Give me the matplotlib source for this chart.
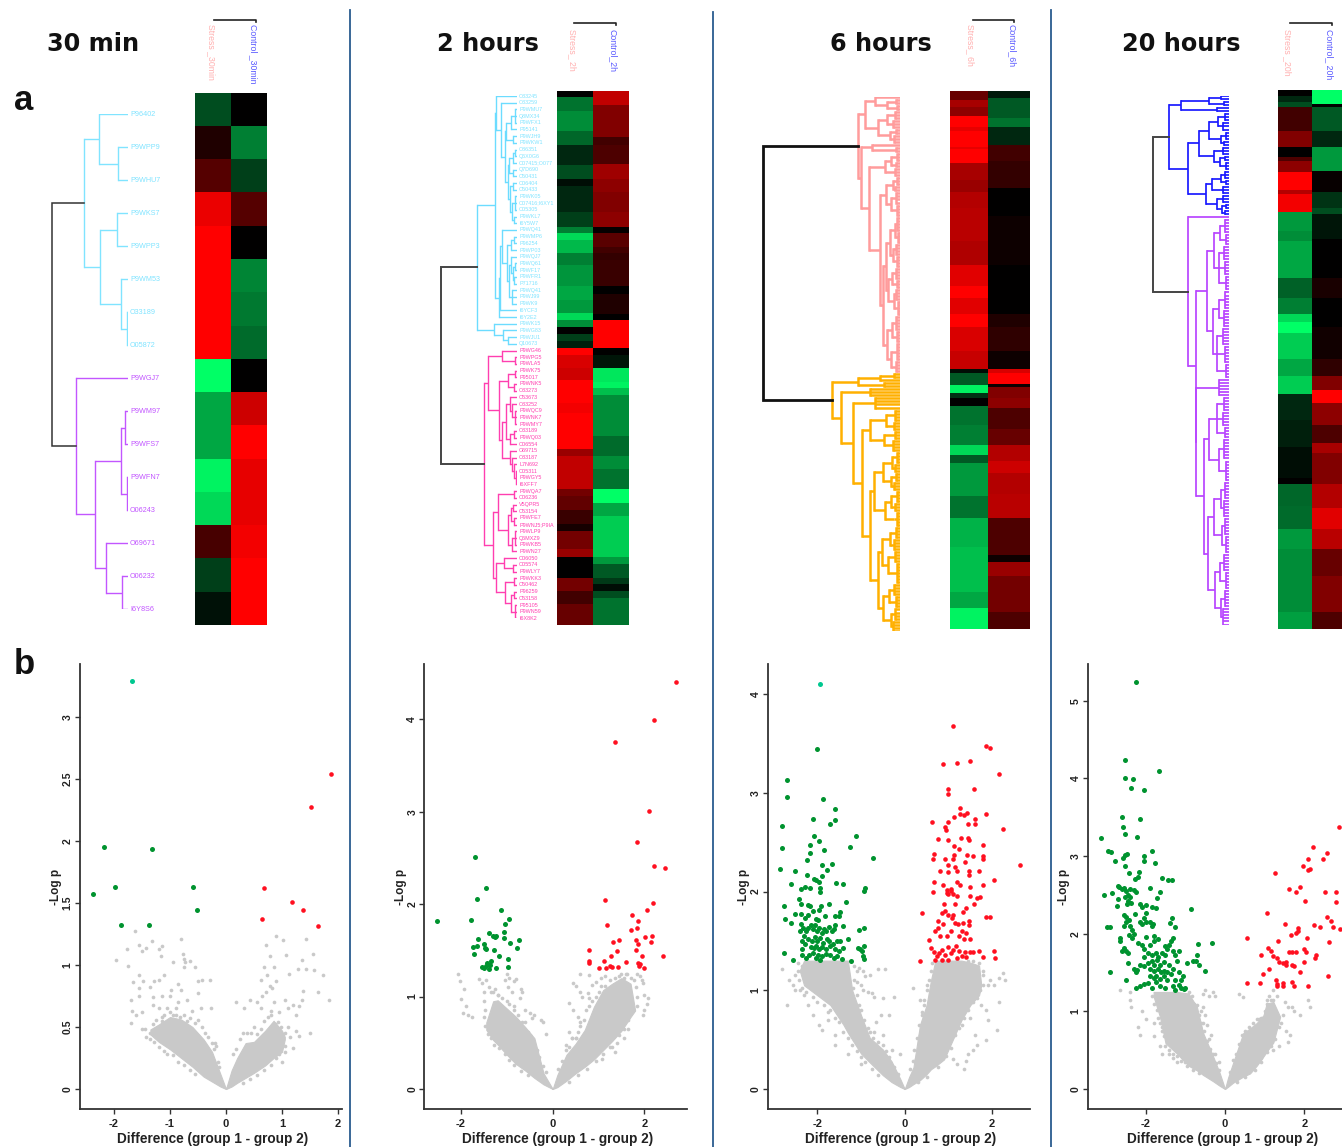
import numpy as np
import matplotlib
matplotlib.use('Agg')
import matplotlib.pyplot as plt
from matplotlib.colors import LinearSegmentedColormap

# ---- heatmap data: band edges (picture rows) and log ratio per band, red + / green -
stress_30_vals = [-.3, .12, .33, .92, 1, 1, 1, 1, -1, -.65, -.65, -.95, -.85, .28, -.25, -.07]
control_30_vals = [0, -.5, -.25, .33, 0, -.52, -.47, -.42, 0, .8, 1, .9, .9, .95, 1, 1]
rows_30_edges = list(range(17))

stress_2h_edges = [222, 238, 272, 322, 355, 405, 438, 455, 520, 555, 570, 588, 620, 650, 700, 735, 768, 785, 800, 818,
                   835, 852, 870, 902, 932, 988, 1012, 1100, 1117, 1197, 1215, 1250, 1283, 1300, 1345, 1365, 1415,
                   1448, 1480, 1530]
stress_2h_vals = [0, -.45, -.55, -.4, -.15, -.3, -.05, -.15, -.25, -.5, -.85, -.72, -.5, -.58, -.65, -.6, -.85, -.55,
                  0, -.25, -.12, 1, .85, .8, 1, .95, 1, .6, .75, .45, .38, .22, .08, .45, .6, 0, .45, .25, .4]
control_2h_edges = [222, 257, 335, 355, 403, 438, 470, 520, 555, 570, 605, 620, 637, 700, 720, 770, 785, 852, 870,
                    902, 935, 950, 968, 1000, 1067, 1117, 1150, 1197, 1232, 1265, 1365, 1382, 1415, 1432, 1448, 1465,
                    1530]
control_2h_vals = [.75, .5, .25, .3, .62, .55, .5, .55, .02, .35, .25, .2, .22, 0, .12, 0, 1, 0, -.08, -.9, -.95,
                   -.75, -.55, -.55, -.42, -.55, -.45, -1, -.65, -.8, -.6, -.35, -.22, -.05, -.3, -.45]

stress_6h_edges = [222, 245, 262, 285, 310, 320, 360, 365, 400, 440, 470, 510, 590, 650, 700, 730, 770, 800, 860, 905,
                   915, 943, 962, 975, 995, 1040, 1090, 1115, 1135, 1215, 1268, 1340, 1380, 1450, 1490, 1540]
stress_6h_vals = [.4, .65, .55, 1, .9, 1, .9, 1, .65, .6, .7, .72, .68, .88, 1, .88, 1, .85, .78, -.05, -.35, -.95,
                  -.2, 0, -.45, -.5, -.85, -.35, -.6, -.45, -.7, -.75, -.75, -.65, -.95]
control_6h_edges = [222, 240, 290, 310, 355, 395, 460, 530, 650, 770, 800, 860, 905, 915, 940, 947, 975, 1000, 1050,
                    1090, 1130, 1160, 1210, 1268, 1360, 1378, 1410, 1500, 1540]
control_6h_vals = [-.1, -.35, -.45, -.15, .25, .2, 0, .05, 0, .12, .18, .05, .85, 1, .05, .5, .55, .3, .4, .7, .8, .7,
                   .72, .3, .05, .6, .45, .3]

stress_20h_edges = [220, 235, 250, 262, 320, 360, 385, 395, 422, 465, 475, 520, 565, 590, 680, 730, 770, 790, 815, 880,
                    920, 965, 1030, 1095, 1170, 1185, 1240, 1295, 1345, 1500, 1540]
stress_20h_vals = [0, -.15, -.3, .25, .5, 0, .3, .55, 1, .7, .95, -.6, -.55, -.65, -.38, -.5, -.85, -1, -.8, -.65,
                   -.8, -.15, -.12, -.05, 0, -.4, -.42, -.6, -.55, -.62]
control_20h_edges = [220, 255, 262, 320, 360, 420, 470, 510, 525, 585, 680, 730, 800, 880, 920, 955, 988, 1040, 1085,
                     1110, 1185, 1245, 1295, 1345, 1410, 1500, 1540]
control_20h_vals = [-1, 0, -.35, -.15, -.6, .03, -.2, -.3, -.08, 0, .1, 0, .07, .18, .5, 1, .55, .3, .65, .5, .7, .88,
                    .72, .4, .5, .3]

# ---- protein labels
labels_30 = ['P96402', 'P9WPP9', 'P9WHU7', 'P9WKS7', 'P9WPP3', 'P9WM53', 'O33189', 'O05872', 'P9WGJ7', 'P9WM97',
             'P9WFS7', 'P9WFN7', 'O06243', 'O69671', 'O06232', 'I6Y8S6']
labels_2h = ['O33245', 'O33259', 'P9WMU7', 'Q8MX34', 'P9WFX1', 'P95141', 'P9WJH9', 'P9WKW1', 'O86351', 'Q6X0G6',
             'O07415;O077', 'Q7D690', 'O50431', 'O06404', 'O50433', 'P9WK05', 'O07416;I6XY1', 'O05305', 'P9WKL7',
             'I6Y5W7', 'P9WQ41', 'P9WMP6', 'P96254', 'P9WP03', 'P9WQJ7', 'P9WQ61', 'P9WF17', 'P9WFR1', 'P71716',
             'P9WQ41', 'P9WJ99', 'P9WK9', 'I6YCF3', 'I6Y2E2', 'P9WK15', 'P9WG83', 'P9WJU1', 'Q10673',
             'P9WG46', 'P9WPG5', 'P9WLA5', 'P9WK75', 'P95017', 'P9WNK5', 'O33273', 'O53673', 'O33252', 'P9WQC9',
             'P9WNK7', 'P9WMY7', 'O33189', 'P9WQ03', 'O06554', 'O69715', 'O33187', 'L7N692', 'O05311', 'P9WGY5',
             'I6XFF7', 'P9WQA7', 'O06236', 'V5QPR5', 'O53154', 'P9WFE7', 'P9WNJ5;P9IA', 'P9WLP9', 'Q6MXZ9', 'P9WKB5',
             'P9WN27', 'O06050', 'O05574', 'P9WLY7', 'P9WKK3', 'O50462', 'P96259', 'O53158', 'P95105', 'P9WN59',
             'I6X8K2']

# ---- dendrograms: (distance, child, child, ...), an int child is that many leaves
tree_30_a = (44, (29, 1, (10, 2)), (28, (11, 2), (7, 1, (1, 2))))
tree_30_b = (52, 1, (33, (7, (2.5, 2), (1, 2)), (22, 1, (6, 2))))
tree_2h_a = (39.3,
             (22,
              (21, 1, (16, 1, (12,
                               (11, (6, (2, 3), 1), (4, 2)),
                               (9, (8, (3.5, (1.5, 2), 1), (3.5, 2)), (7, (4, 2), (5, (2, 3), (3, 2))))))),
              (18, (17, (15, 1, (10, (6, (3, 2), 1), (8, (6, 1, (4, (2, 2), (3, 2))), (5, 3)))), 1), 1)),
             (23, 1, (14, 1, (9, 2))))
tree_2h_b = (32.3,
             (29, (15, 1, (1.7, 2)),
              (18, (9, (2, 2), (3, 2)),
               (15, (11, (7, 1, (5, 1, (2, 3))), (7, (3, 2), 1)), (7, 1, (5, 1, (2.5, 1, (1, 3))))))),
             (24,
              (19, (2.5, 2), (9, (6, (3.5, 2), (2.5, 2)), (5, (2, 3), 1))),
              (21, (13, 1, (4, 2)), (12, (3, 2), (6, (3, 2), (2, 3))))))
tree_6h_a = (42,
             (35, (25, 1, (13, (4, 2), (3, 2))), (22, (13, (5, 3), (7, 3)), (10, (4, 2), (6, 3)))),
             (39, (28, 1, (4, 2)),
              (31, (15, (9, (3, 3), (4, 2)), (5, 3)),
               (20, (14, (7, (3, 3), (5, 2)), (9, (4, 4), (3, 4))),
                (17,
                 (14, (10, (5, (3, 5), (2, 4)), (7, (4, 4), (3, 4))), (12, (8, (4, 4), (3, 3)), (6, (4, 4), (2, 5)))),
                 (13, (8, (4, 5), (3, 4)), (9, (3, 6), (4, 4))))))))
tree_6h_b = (68,
             (42, (20, (6, 2), 1), (16, 2)),
             (59, (30, 3),
              (47, (25, 4),
               (38, (30, (14, (5, 4), (6, 3)), (16, (5, 3), (7, 4))),
                (30,
                 (26, (17, (8, (3, 4), (5, 3)), (9, (4, 3), (6, 3))), (15, (9, (3, 4), (5, 3)), (6, (3, 5)))),
                 (22, (18, (10, (4, 4), (6, 4)), (12, (5, 4), (3, 7))),
                  (17, (11, (6, 4), (4, 4)), (9, (5, 4), (7, 4)))))))))
tree_20h_a = (60,
              (48, (20, (8, 2), (5, 2)), (12, 2)),
              (40.7,
               (30, (20, (11, (4, 3), (6, 3)), (8, (3, 3), (5, 2))), (15, (6, 3), (9, (4, 2), (3, 3)))),
               (23, (17, (8, (4, 3), (3, 2)), (6, 3)), (12, (6, 3), (7, (3, 2), (4, 2))))))
tree_20h_b = (40.7, 1,
              (33,
               (22, (15, (9, (4, 5), (3, 4)), (10, (5, 5), (4, 5), (3, 5))),
                (16, (10, (4, 6), (5, 6)), (12, (6, 6), (4, 6), (3, 5)))),
               (33, (28, (10, 6)),
                (25, (20, (12, (5, 5), (6, 5), (4, 4)), (10, (5, 7), (3, 7))),
                 (21, (15, (8, (4, 6), (5, 6)), (7, (4, 6), (3, 6))), (14, (9, (5, 6), (3, 6)), (8, (4, 6), (6, 6))))))))

# ---- volcano data: (difference, -log p)
green_30 = [(-2.17, 1.95), (-1.32, 1.93), (-1.99, 1.63), (-2.38, 1.57), (-.59, 1.63), (-.51, 1.44), (-1.88, 1.32),
            (-1.38, 1.32)]
teal_30 = [(-1.67, 3.29)]
red_30 = [(1.88, 2.54), (1.51, 2.27), (.68, 1.62), (1.18, 1.51), (1.38, 1.44), (.65, 1.37), (1.65, 1.31)]
gray_30 = [(-1.62, 1.27), (-.8, 1.21), (-1.76, 1.13), (-1.56, 1.16), (-1.5, 1.11), (-1.43, 1.14), (-1.32, 1.19),
           (-1.2, 1.13), (-1.14, 1.15), (-1.16, 1.07), (-1.97, 1.04), (-1.75, .99), (-.95, 1.02), (-.76, 1.09),
           (-.75, 1.05), (-.73, 1.02), (-.65, 1.03), (-.75, .98), (-.55, .98), (-1.55, .92), (-1.66, .86), (-1.48, .87),
           (-1.55, .81), (-1.35, .82), (-1.28, .87), (-1.2, .88), (-1.1, .92), (-.99, .8), (-.85, .85), (-.8, .8),
           (-.5, .87), (-.28, .88), (-.42, .88), (-1.7, .72), (-1.55, .75), (-1.3, .74), (-1.15, .75), (-1.0, .75),
           (-.85, .7), (-.7, .72), (-.5, .77), (-1.67, .63), (-1.6, .6), (-1.5, .62), (-1.3, .68), (-1.2, .65),
           (-1.05, .65), (-.9, .65), (-.6, .63), (-.45, .65), (-.27, .65), (-1.7, .53), (-1.5, .48), (-1.35, .45),
           (-1.15, .55), (-.2, .37), (-.17, .35), (.9, 1.23), (1.02, 1.2), (1.42, 1.21), (.72, 1.16), (1.08, 1.08),
           (.78, 1.07), (1.36, 1.04), (1.55, 1.09), (.68, .98), (.85, .98), (1.12, .93), (1.28, .97), (1.42, .97),
           (1.57, .96), (1.74, .92), (.74, .92), (.62, .88), (.9, .87), (.78, .83), (.82, .81), (1.38, .79), (1.65, .78),
           (1.84, .72), (.65, .75), (.72, .78), (.85, .7), (1.05, .72), (1.2, .68), (1.35, .72), (.18, .7), (.42, .72),
           (.55, .7), (.32, .65), (.62, .65), (.8, .63), (.95, .62), (1.1, .65), (1.25, .6), (1.3, .67), (1.1, .5),
           (1.25, .47), (1.5, .45), (1.3, .43), (1.15, .42), (1.2, .33), (1.05, .3), (.95, .28)]
edge_30 = [(-1.3, .52), (-1.25, .56), (-1.15, .58), (-1.1, .6), (-1.0, .62), (-.95, .6), (-.9, .6), (-.82, .58),
           (-.75, .6), (-.7, .55), (-.65, .57), (-.55, .53), (-.5, .56), (-.42, .5), (-.38, .45), (-.32, .42),
           (-.25, .37), (-.22, .32), (-.15, .22), (-.12, .18), (-1.45, .48), (-1.42, .42), (-1.35, .4), (-1.28, .38),
           (-1.2, .34), (-1.1, .31), (-1.05, .28), (-.95, .27), (-.85, .22), (-.75, .19), (-.65, .15), (-.55, .12),
           (.12, .28), (.18, .32), (.25, .4), (.3, .45), (.38, .45), (.45, .45), (.5, .5), (.55, .44), (.62, .48),
           (.68, .55), (.75, .58), (.8, .6), (.88, .52), (.92, .54), (.98, .5), (1.05, .45), (.3, .05), (.42, .08),
           (.55, .11), (.68, .15), (.8, .19), (.9, .25), (.95, .3), (1.05, .35), (1.0, .22)]
band_30_x = [-1.35, -1.2, -1.0, -.8, -.6, -.4, -.25, -.1, 0, .1, .2, .35, .5, .7, .85, 1.0, 1.05]
band_30_lo = [.44, .38, .32, .25, .18, .1, .06, .02, 0, .02, .05, .09, .13, .19, .25, .3, .4]
band_30_hi = [.48, .52, .58, .56, .5, .4, .3, .12, 0, .15, .25, .37, .38, .47, .55, .47, .42]

green_2h = [(-1.70, 2.51), (-1.46, 2.18), (-1.65, 2.06), (-1.13, 1.94), (-2.52, 1.82), (-1.78, 1.83), (-.95, 1.84),
            (-1.04, 1.79), (-1.06, 1.70), (-1.4, 1.69), (-1.31, 1.66), (-1.23, 1.66), (-1.27, 1.65), (-1.06, 1.63),
            (-1.64, 1.62), (-.74, 1.61), (-.93, 1.58), (-1.51, 1.57), (-1.73, 1.54), (-1.65, 1.55), (-1.48, 1.53),
            (-1.46, 1.52), (-.78, 1.53), (-1.28, 1.5), (-1.72, 1.46), (-1.17, 1.44), (-.98, 1.41), (-1.35, 1.39),
            (-1.43, 1.36), (-1.54, 1.32), (-1.46, 1.33), (-1.37, 1.34), (-1.5, 1.31), (-1.4, 1.3), (-1.23, 1.31),
            (-.98, 1.32)]
red_2h = [(2.69, 4.4), (2.21, 3.99), (1.35, 3.76), (2.1, 3.01), (1.83, 2.67), (2.21, 2.41), (2.45, 2.39), (1.15, 2.05),
          (2.18, 2.01), (2.06, 1.94), (1.73, 1.88), (1.19, 1.77), (1.86, 1.82), (1.84, 1.74), (1.71, 1.72), (2.01, 1.64),
          (2.17, 1.66), (1.45, 1.61), (1.32, 1.59), (1.82, 1.61), (1.86, 1.57), (2.15, 1.59), (.8, 1.5), (1.4, 1.49),
          (1.82, 1.5), (1.28, 1.44), (1.95, 1.44), (2.41, 1.44), (.8, 1.39), (.8, 1.36), (1.11, 1.38), (1.61, 1.37),
          (1.87, 1.36), (1.91, 1.35), (1.25, 1.33), (1.43, 1.32), (1.0, 1.31), (1.16, 1.31), (1.3, 1.32), (1.88, 1.33),
          (2.0, 1.31)]
gray_2h = [(-2.07, 1.24), (-2.03, 1.17), (-1.94, 1.08), (-2.0, .97), (-1.9, .9), (-1.95, .82), (-1.85, .8), (-1.77, .78),
           (-1.6, 1.19), (-1.55, 1.15), (-1.45, 1.18), (-1.4, 1.1), (-1.5, 1.05), (-1.35, 1.05), (-1.25, 1.08),
           (-1.2, 1.02), (-1.05, 1.18), (-1.0, 1.25), (-.95, 1.2), (-.85, 1.17), (-.8, 1.19), (-.98, 1.1), (-.88, 1.05),
           (-.7, 1.08), (-.67, 1.05), (-.72, .98), (-.85, .9), (-.6, .85), (-.5, .82), (-.4, .8), (-.45, .77),
           (-.25, .75), (-.22, .72), (-.15, .6), (.45, 1.15), (.5, 1.12), (.6, 1.05), (.65, 1.0), (.35, .93), (.6, 1.25),
           (.8, 1.23), (.85, 1.13), (.95, 1.16), (1.05, 1.2), (1.15, 1.22), (.78, 1.04), (.8, .98), (.45, .85), (.55, .78),
           (.6, .72), (.35, .62), (.42, .55), (.3, .48), (.5, .55), (1.5, 1.25), (1.6, 1.25), (1.85, 1.25), (1.9, 1.22),
           (1.95, 1.18), (1.98, 1.15), (2.0, 1.02), (2.07, .98), (2.05, .92), (2.0, .85), (1.98, .8), (1.7, .95),
           (1.75, .87), (1.65, .65), (1.55, .55), (1.4, .5), (1.3, .45), (1.07, .32), (1.35, .4)]
edge_2h = [(-1.3, 1.05), (-1.2, 1.02), (-1.1, .98), (-1.0, .95), (-.95, .92), (-.85, .85), (-.75, .8), (-.68, .72),
           (-.6, .72), (-.55, .62), (-.5, .58), (-.42, .5), (-.35, .42), (-.3, .35), (-.22, .25), (-.15, .18),
           (-1.5, .95), (-1.48, .85), (-1.5, .78), (-1.47, .68), (-1.42, .6), (-1.35, .55), (-1.28, .48), (-1.18, .44),
           (-1.05, .38), (-.95, .31), (-.85, .26), (-.7, .2), (-.55, .15), (.12, .22), (.2, .3), (.28, .42), (.35, .45),
           (.42, .55), (.5, .55), (.55, .62), (.6, .68), (.68, .75), (.72, .85), (.8, .9), (.85, .95), (.95, 1.0),
           (1.0, 1.05), (1.05, 1.12), (1.15, 1.12), (1.25, 1.18), (1.35, 1.2), (1.45, 1.22), (1.55, 1.2), (1.62, 1.24),
           (1.7, 1.2), (1.78, 1.18), (.35, .08), (.55, .15), (.75, .22), (.95, .3), (1.1, .38), (1.25, .45), (1.45, .58),
           (1.55, .65), (1.65, .75), (1.75, .85), (1.85, 1.0), (1.82, 1.1), (1.83, .9)]
band_2h_x = [-1.45, -1.3, -1.2, -1.0, -.8, -.6, -.4, -.2, 0, .1, .3, .5, .7, .9, 1.1, 1.3, 1.5, 1.7, 1.8]
band_2h_lo = [.64, .53, .48, .37, .27, .2, .12, .05, 0, .02, .09, .17, .24, .32, .42, .52, .63, .78, .85]
band_2h_hi = [.72, .95, .96, .87, .78, .67, .55, .17, 0, .15, .37, .49, .64, .89, 1.07, 1.14, 1.2, 1.14, .85]

teal_6h = [(-1.93, 4.10)]
green_6h = [(-2, 3.44), (-2.7, 3.13), (-2.68, 2.96), (-1.87, 2.94), (-1.59, 2.84), (-2.1, 2.73), (-1.59, 2.72),
            (-1.71, 2.68), (-2.8, 2.66), (-2.07, 2.56), (-1.11, 2.56), (-1.96, 2.51), (-2.16, 2.47), (-1.25, 2.45),
            (-2.8, 2.44), (-1.84, 2.42), (-2.16, 2.39), (-.72, 2.34), (-2.23, 2.32), (-1.66, 2.28), (-1.88, 2.27),
            (-2.84, 2.23), (-1.78, 2.22), (-2.5, 2.21), (-2.23, 2.17), (-1.89, 2.16), (-2.07, 2.13), (-2.03, 2.12),
            (-1.56, 2.09), (-1.96, 2.1), (-2.6, 2.08), (-1.41, 2.08), (-1.94, 2.04), (-2.28, 2.05), (-2.37, 2.03),
            (-2.16, 2.04), (-.91, 2.04), (-.93, 2.01), (-1.94, 1.99), (-2.42, 1.92), (-1.34, 1.89), (-2.37, 1.87),
            (-2.21, 1.86), (-2.77, 1.85), (-1.91, 1.85), (-1.73, 1.87), (-2.16, 1.85), (-1.96, 1.81), (-2.1, 1.8),
            (-1.48, 1.79), (-2.5, 1.77), (-2.37, 1.77), (-2.21, 1.76), (-1.5, 1.75), (-1.59, 1.75), (-1.82, 1.75),
            (-2.73, 1.72), (-2.28, 1.73), (-2.03, 1.72), (-1.99, 1.71), (-2.6, 1.68), (-2.37, 1.67),
            (-2.4, 1.6), (-2.33, 1.63), (-2.3, 1.55), (-2.25, 1.6), (-2.2, 1.63), (-2.15, 1.66), (-2.1, 1.62),
            (-2.05, 1.66), (-2.0, 1.6), (-1.95, 1.63), (-1.9, 1.58), (-1.85, 1.62), (-1.8, 1.6), (-1.72, 1.64),
            (-1.66, 1.6), (-1.6, 1.66), (-2.35, 1.5), (-2.28, 1.47), (-2.2, 1.52), (-2.12, 1.5), (-2.05, 1.54),
            (-2.0, 1.5), (-1.93, 1.53), (-1.86, 1.48), (-1.78, 1.52), (-1.72, 1.5), (-1.65, 1.47), (-1.55, 1.5),
            (-1.48, 1.5), (-2.35, 1.42), (-2.15, 1.44), (-2.08, 1.43), (-2.02, 1.45), (-1.96, 1.42), (-1.88, 1.44),
            (-1.8, 1.42), (-1.7, 1.45), (-1.6, 1.42), (-1.5, 1.4), (-1.4, 1.43), (-2.35, 1.36), (-2.25, 1.33),
            (-2.18, 1.36), (-2.1, 1.38), (-2.03, 1.33), (-1.98, 1.36), (-1.93, 1.31), (-1.88, 1.35), (-1.8, 1.37),
            (-1.7, 1.36), (-1.62, 1.33), (-1.55, 1.35), (-1.43, 1.32), (-2.55, 1.31), (-2.75, 1.38), (-1.23, 1.3),
            (-1.07, 1.43), (-1.02, 1.42), (-.98, 1.4), (-.93, 1.45), (-.95, 1.35), (-.93, 1.32), (-1.05, 1.61),
            (-.92, 1.63), (-1.4, 1.65), (-1.3, 1.52), (-1.62, 1.62)]
red_6h = [(1.1, 3.68), (1.85, 3.47), (1.95, 3.45), (.87, 3.29), (1.2, 3.3), (1.5, 3.32), (2.15, 3.19), (1.58, 3.04),
          (1.0, 3.04), (1.0, 2.99), (1.26, 2.85), (1.27, 2.78), (1.35, 2.77), (1.42, 2.8), (1.85, 2.78), (1.12, 2.75),
          (.63, 2.7), (1.0, 2.7), (.93, 2.65), (.95, 2.62), (1.6, 2.73), (1.45, 2.68), (1.6, 2.68), (2.25, 2.63),
          (.77, 2.53), (.98, 2.52), (1.28, 2.54), (1.45, 2.54), (1.48, 2.52), (1.78, 2.47), (1.13, 2.46), (1.25, 2.43),
          (.66, 2.38), (.65, 2.33), (1.13, 2.37), (1.1, 2.33), (1.42, 2.37), (1.57, 2.36), (1.78, 2.36), (1.78, 2.33),
          (.93, 2.33), (1.0, 2.27), (1.38, 2.3), (1.15, 2.25), (.8, 2.21), (1.0, 2.2), (1.2, 2.21), (1.46, 2.21),
          (1.46, 2.17), (1.7, 2.21), (2.63, 2.27), (2.05, 2.12), (.68, 2.1), (1.2, 2.1), (1.27, 2.07), (.88, 2.07),
          (1.8, 2.07), (1.5, 2.05), (.97, 2.02), (1.05, 2.03), (.97, 1.98), (1.0, 1.97), (1.05, 2.01), (1.1, 1.97),
          (.64, 1.99), (1.2, 1.95), (1.5, 1.95), (1.65, 1.93), (1.72, 1.94), (.9, 1.87), (1.15, 1.87), (1.58, 1.87),
          (1.4, 1.83), (.92, 1.8), (.85, 1.78), (1.33, 1.79), (1.0, 1.76), (1.1, 1.76), (.4, 1.78), (1.07, 1.73),
          (.75, 1.7), (.88, 1.67), (1.15, 1.68), (1.22, 1.67), (1.33, 1.68), (1.46, 1.7), (1.48, 1.66), (1.85, 1.74),
          (1.95, 1.74), (.7, 1.6), (.75, 1.63), (.8, 1.55), (.97, 1.55), (1.05, 1.6), (1.25, 1.55), (1.3, 1.6),
          (1.4, 1.58), (1.35, 1.52), (1.5, 1.52), (.55, 1.51), (.6, 1.43), (.66, 1.39), (.73, 1.35), (.78, 1.38),
          (.85, 1.41), (.92, 1.36), (.98, 1.44), (1.05, 1.38), (1.1, 1.41), (1.17, 1.45), (1.25, 1.4), (1.3, 1.35),
          (1.38, 1.39), (1.5, 1.39), (1.7, 1.4), (1.8, 1.34), (2.03, 1.4), (2.07, 1.33), (.36, 1.3), (.7, 1.31),
          (.85, 1.31), (1.0, 1.31), (1.2, 1.33), (1.4, 1.34), (1.57, 1.39)]
gray_6h = [(-2.8, 1.22), (-2.65, 1.1), (-2.45, 1.2), (-2.55, 1.05), (-2.5, 1.0), (-2.4, 1.0), (-2.7, .85), (-2.3, .95),
           (-2.2, .85), (-2.1, .75), (-1.95, .65), (-1.9, .6), (-1.75, .7), (-1.6, .55), (-1.6, .45), (-1.7, .8),
           (-1.3, .35), (-1.0, .25), (-1.05, 1.23), (-.95, 1.2), (-.9, 1.14), (-.8, 1.15), (-.62, 1.22), (-.45, 1.22),
           (-1.1, 1.08), (-1.0, 1.05), (-.95, 1.0), (-.85, .98), (-.75, .97), (-.7, .93), (-.5, .92), (-.25, .93),
           (-.35, .75), (-.55, .75), (-.65, .68), (-.7, .58), (-.5, .55), (-.3, .4), (-.1, .35), (.2, 1.02), (.5, 1.05),
           (.45, .85), (.4, .75), (.35, .55), (.25, .3), (1.55, 1.3), (1.7, 1.28), (1.8, 1.15), (1.9, 1.05), (1.95, 1.1),
           (2.05, 1.05), (2.25, 1.17), (2.3, 1.1), (2.15, 1.12), (2.15, .88), (1.6, .95), (1.75, .85), (1.85, .8),
           (1.9, .7), (2.1, .6), (1.85, .5), (1.6, .55), (1.65, .45), (1.55, .4), (1.45, .35), (1.4, .28), (1.35, .2),
           (1.2, .25), (1.1, .3), (1.3, .65), (1.5, .72), (.35, .9), (.5, .3)]
edge_6h = [(-2.45, 1.28), (-2.35, 1.25), (-2.25, 1.3), (-2.15, 1.27), (-2.5, 1.15), (-2.42, 1.1), (-2.35, 1.02),
           (-2.25, .98), (-2.1, .93), (-2.0, .88), (-1.85, .85), (-1.75, .78), (-1.6, .72), (-1.5, .68), (-1.4, .58),
           (-1.3, .52), (-1.2, .45), (-1.1, .38), (-1.0, .32), (-.9, .27), (-.75, .2), (-.6, .14), (-1.15, 1.25),
           (-1.1, 1.2), (-1.15, 1.1), (-1.18, 1.02), (-1.1, .95), (-1.05, .85), (-1.0, .8), (-.92, .7), (-.85, .62),
           (-.8, .58), (-.72, .52), (-.6, .48), (-.5, .45), (-.42, .38), (-.35, .32), (-.25, .22), (-.15, .15),
           (.12, .2), (.18, .28), (.22, .4), (.28, .52), (.32, .65), (.4, .78), (.45, .9), (.5, 1.0), (.55, 1.1),
           (.6, 1.2), (.62, 1.28), (.3, .07), (.5, .12), (.75, .22), (.95, .33), (1.05, .42), (1.15, .55), (1.25, .62),
           (1.35, .72), (1.45, .8), (1.55, .88), (1.65, .92), (1.72, 1.0), (1.8, 1.05), (1.78, 1.2), (1.45, 1.3),
           (1.2, 1.31)]
band_6h_x = [-2.4, -2.3, -2.0, -1.7, -1.4, -1.3, -1.2, -1.0, -.8, -.5, -.3, -.1, 0, .1, .2, .35, .5, .6, .7, .9, 1.1,
             1.3, 1.5, 1.7, 1.75]
band_6h_lo = [1.2, 1.05, .95, .85, .65, .57, .5, .36, .27, .14, .07, .02, 0, .02, .05, .09, .15, .2, .23, .3, .5, .7,
              .85, .95, 1.05]
band_6h_hi = [1.2, 1.3, 1.3, 1.3, 1.3, 1.3, 1.0, .75, .52, .4, .28, .1, 0, .12, .22, .65, .85, 1.1, 1.3, 1.3, 1.3, 1.3,
              1.28, 1.25, 1.05]

green_20h = [(-2.25, 5.24), (-2.53, 4.24), (-1.66, 4.09), (-2.53, 4.0), (-2.33, 3.99), (-2.38, 3.87), (-2.03, 3.85),
             (-2.6, 3.5), (-2.15, 3.48), (-2.58, 3.37), (-2.53, 3.28), (-2.23, 3.24), (-3.13, 3.23), (-2.96, 3.06),
             (-2.88, 3.05), (-1.83, 3.06), (-2.48, 3.03), (-2.53, 3.01), (-2.58, 2.98), (-2.05, 3.0), (-2.05, 2.93),
             (-2.77, 2.94), (-1.76, 2.91), (-2.53, 2.87), (-2.18, 2.8), (-2.43, 2.78), (-2.2, 2.73), (-2.28, 2.71),
             (-1.6, 2.72), (-1.43, 2.69), (-1.33, 2.69), (-2.7, 2.61), (-2.66, 2.6), (-2.55, 2.59), (-2.4, 2.58),
             (-2.3, 2.56), (-2.25, 2.53), (-2.6, 2.57), (-2.5, 2.55), (-2.45, 2.5), (-2.4, 2.47), (-2.52, 2.47),
             (-2.45, 2.42), (-2.38, 2.4), (-2.48, 2.38), (-3.05, 2.5), (-2.85, 2.52), (-2.7, 2.45), (-1.9, 2.59),
             (-1.65, 2.53), (-1.72, 2.46), (-2.15, 2.38), (-2.1, 2.34), (-1.98, 2.37), (-1.85, 2.34), (-1.75, 2.33),
             (-.86, 2.32), (-2.72, 2.35), (-2.55, 2.24), (-2.5, 2.22), (-2.28, 2.25), (-2.0, 2.27), (-2.05, 2.2),
             (-1.34, 2.2), (-2.5, 2.15), (-2.43, 2.17), (-2.55, 2.1), (-2.4, 2.1), (-2.15, 2.15), (-2.1, 2.12),
             (-2.0, 2.15), (-1.9, 2.15), (-1.82, 2.13), (-1.85, 2.1), (-1.38, 2.14), (-1.27, 2.08), (-2.97, 2.08),
             (-2.9, 2.08), (-2.35, 2.05), (-2.42, 1.98), (-2.3, 2.0), (-2.35, 1.95), (-2.0, 1.96), (-1.8, 1.97),
             (-1.7, 1.93), (-1.3, 1.94), (-1.35, 1.9), (-1.4, 1.85), (-1.8, 1.9), (-2.65, 1.95), (-2.65, 1.9),
             (-2.2, 1.88), (-2.1, 1.85), (-1.9, 1.85), (-1.5, 1.84), (-1.45, 1.8), (-.68, 1.87), (-.33, 1.88),
             (-2.55, 1.82), (-2.5, 1.78), (-2.45, 1.75), (-2.6, 1.78), (-2.05, 1.8), (-1.95, 1.75), (-2.05, 1.7),
             (-1.85, 1.72), (-1.75, 1.75), (-1.7, 1.7), (-1.6, 1.75), (-1.5, 1.72), (-1.3, 1.78), (-1.15, 1.78),
             (-1.25, 1.72), (-.7, 1.72), (-.72, 1.65), (-.8, 1.65), (-.95, 1.62), (-.65, 1.6), (-2.45, 1.62),
             (-2.3, 1.55), (-2.22, 1.53), (-2.15, 1.6), (-2.05, 1.58), (-1.95, 1.62), (-1.85, 1.65), (-1.8, 1.6),
             (-1.72, 1.66), (-1.65, 1.6), (-1.55, 1.63), (-1.4, 1.6), (-1.3, 1.55), (-1.2, 1.65), (-1.9, 1.55),
             (-1.8, 1.52), (-1.7, 1.55), (-1.62, 1.5), (-1.55, 1.52), (-1.45, 1.5), (-1.35, 1.48), (-1.15, 1.5),
             (-1.05, 1.45), (-.5, 1.52), (-2.9, 1.51), (-2.5, 1.4), (-1.9, 1.45), (-1.8, 1.43), (-1.75, 1.46),
             (-1.65, 1.42), (-1.55, 1.45), (-1.45, 1.4), (-1.25, 1.4), (-1.1, 1.4), (-2.25, 1.3), (-2.15, 1.33),
             (-2.05, 1.35), (-1.95, 1.37), (-1.85, 1.3), (-1.75, 1.38), (-1.65, 1.33), (-1.5, 1.3), (-1.3, 1.32),
             (-1.25, 1.28), (-1.15, 1.34), (-1.1, 1.3), (-1.03, 1.29), (-1.0, 1.3), (-2.25, 1.5)]
red_20h = [(2.87, 3.37), (2.22, 3.12), (2.57, 3.04), (2.46, 2.96), (2.1, 2.96), (1.96, 2.87), (2.15, 2.83), (2.1, 2.82),
           (1.27, 2.78), (1.62, 2.58), (1.9, 2.6), (1.8, 2.53), (2.53, 2.54), (2.81, 2.54), (2.01, 2.42), (2.81, 2.41),
           (1.07, 2.26), (2.58, 2.22), (2.68, 2.16), (1.5, 2.13), (2.25, 2.11), (2.4, 2.09), (2.73, 2.09), (2.9, 2.06),
           (1.85, 2.07), (1.85, 2.03), (1.8, 2.01), (1.66, 1.98), (.55, 1.95), (2.07, 1.94), (1.33, 1.91), (2.62, 1.89),
           (1.08, 1.82), (1.15, 1.78), (1.98, 1.8), (2.03, 1.76), (1.62, 1.77), (1.7, 1.76), (1.78, 1.76), (.9, 1.72),
           (1.2, 1.71), (1.32, 1.69), (2.3, 1.73), (2.28, 1.69), (1.37, 1.63), (1.46, 1.62), (1.55, 1.64), (1.55, 1.6),
           (1.7, 1.6), (1.75, 1.58), (2.0, 1.64), (1.12, 1.55), (.95, 1.48), (1.9, 1.51), (2.6, 1.45), (1.28, 1.4),
           (1.3, 1.35), (.55, 1.36), (.88, 1.36), (1.45, 1.37), (1.45, 1.32), (1.68, 1.38), (1.75, 1.32), (2.08, 1.33),
           (1.3, 1.32)]
gray_20h = [(-2.65, 1.27), (-2.4, 1.25), (-2.4, 1.15), (-2.38, 1.05), (-2.1, 1.0), (-2.2, .8), (-2.0, .9), (-1.8, .85),
            (-2.15, .7), (-1.8, .68), (-1.6, .8), (-1.65, .55), (-1.6, .45), (-1.4, .45), (-1.3, .4), (-1.2, .35),
            (-1.0, .35), (-.55, 1.22), (-.5, 1.27), (-.4, 1.2), (-.3, 1.25), (-.25, 1.2), (-.6, 1.0), (-.55, 1.05),
            (-.5, .95), (-.45, .82), (-.55, .85), (-.35, .7), (-.4, .65), (-.25, .45), (-.15, .35), (.35, 1.22),
            (.45, 1.18), (1.2, 1.27), (1.3, 1.2), (1.15, 1.15), (1.2, 1.05), (1.05, 1.1), (1.5, 1.12), (1.6, 1.05),
            (1.7, 1.05), (1.75, 1.0), (1.9, .95), (2.1, 1.15), (2.15, 1.05), (1.45, .95), (1.4, .85), (1.55, .75),
            (1.65, .7), (1.6, .6), (.9, .4), (1.2, .5), (1.35, .55), (1.15, .85), (1.0, .8), (.85, .9), (.7, .75)]
edge_20h = [(-1.85, 1.2), (-1.8, 1.1), (-1.72, 1.02), (-1.7, .92), (-1.65, .85), (-1.6, .75), (-1.55, .68), (-1.5, .55),
            (-1.4, .5), (-1.3, .45), (-1.2, .42), (-1.1, .36), (-.95, .3), (-.8, .25), (-.65, .2), (-.9, 1.25),
            (-.82, 1.2), (-.78, 1.1), (-.7, 1.08), (-.65, .95), (-.6, .85), (-.52, .75), (-.45, .62), (-.38, .52),
            (-.3, .45), (-.22, .33), (-.15, .25), (.12, .22), (.2, .37), (.28, .45), (.35, .58), (.42, .7), (.5, .75),
            (.6, .8), (.7, .85), (.8, .9), (.9, .92), (1.0, 1.0), (1.05, 1.15), (1.12, 1.2), (1.2, 1.15), (1.25, 1.0),
            (1.3, .9), (1.35, .8), (1.25, .65), (1.15, .55), (1.05, .48), (.9, .35), (.75, .25), (.5, .15), (.3, .09)]
band_20h_x = [-1.8, -1.64, -1.5, -1.22, -.92, -.71, -.55, -.3, -.13, 0, .08, .2, .46, .63, .8, .97, 1.05, 1.22, 1.39]
band_20h_lo = [1.19, .93, .59, .46, .3, .24, .18, .1, .04, 0, .03, .08, .16, .2, .3, .42, .48, .6, .93]
band_20h_hi = [1.25, 1.25, 1.25, 1.25, 1.23, 1.06, .72, .42, .2, 0, .15, .33, .72, .78, .85, .95, 1.1, 1.12, .93]

# ---- figure and pixel layout
W, H = 1342, 1147
plt.rcParams['font.family'] = ['Liberation Sans', 'DejaVu Sans']
plt.rcParams['axes.unicode_minus'] = False
fig = plt.figure(figsize=(W / 100, H / 100), dpi=100)
GRAY, GREEN, RED, TEAL = '#C9C9C9', '#00932F', '#FF1020', '#00C890'
heat_cmap = LinearSegmentedColormap.from_list('rg', ['#00FF66', '#000000', '#FF0000'])


def ax_px(x0, y0, x1, y1):
    return fig.add_axes([x0 / W, 1 - y1 / H, (x1 - x0) / W, (y1 - y0) / H])


def count_leaves(node):
    return sum(k if isinstance(k, int) else count_leaves(k) for k in node[1:])


def draw_tree(ax, node, counter, color, lw):
    d = node[0]
    ys = []
    for kid in node[1:]:
        if isinstance(kid, int):
            for _ in range(kid):
                y = counter[0]
                counter[0] += 1
                ax.plot([0, d], [y, y], color=color, lw=lw, solid_capstyle='butt')
                ys.append(y)
        else:
            ky, kd = draw_tree(ax, kid, counter, color, lw)
            ax.plot([kd, d], [ky, ky], color=color, lw=lw, solid_capstyle='butt')
            ys.append(ky)
    ax.plot([d, d], [ys[0], ys[-1]], color=color, lw=lw, solid_capstyle='projecting')
    return (ys[0] + ys[-1]) / 2, d


def dendrogram(tree_a, tree_b, root_d, x_leaf, y0, y1, col_a, col_b, lw, root_col, root_lw):
    n = count_leaves(tree_a) + count_leaves(tree_b)
    ax = ax_px(x_leaf - root_d, y0, x_leaf, y1)
    ax.set_xlim(root_d, 0)
    ax.set_ylim(n - 1, 0)
    ax.axis('off')
    counter = [0]
    ya, da = draw_tree(ax, tree_a, counter, col_a, lw)
    yb, db = draw_tree(ax, tree_b, counter, col_b, lw)
    ax.plot([da, root_d, root_d, db], [ya, ya, yb, yb], color=root_col, lw=root_lw, clip_on=False,
            solid_joinstyle='miter')
    return count_leaves(tree_a), n


def heat_col(x0, x1, y0, y1, edges, vals):
    ax = ax_px(x0, y0, x1, y1)
    ax.pcolormesh([0, 1], edges, np.array(vals)[:, None], cmap=heat_cmap, vmin=-1, vmax=1)
    ax.set_ylim(edges[-1], edges[0])
    ax.axis('off')


def volcano(x_left, x_right, x_zero, px_x, px_y, xticks, yticks, ylabels, green, red, gray, band, teal=None):
    y_top, y_bot, y_zero = 664, 1109, 1089
    ax = ax_px(x_left, y_top, x_right, y_bot)
    ax.set_xlim((x_left - x_zero) / px_x, (x_right - x_zero) / px_x)
    ax.set_ylim((y_zero - y_bot) / px_y, (y_zero - y_top) / px_y)
    ax.patch.set_alpha(0)
    ax.fill_between(band[0], band[1], band[2], color=GRAY, lw=0.8, zorder=1)
    ax.scatter(*zip(*gray), s=7, color=GRAY, linewidths=0, zorder=2)
    ax.scatter(*zip(*green), s=13, color=GREEN, linewidths=0, zorder=3)
    ax.scatter(*zip(*red), s=11, color=RED, linewidths=0, zorder=3)
    if teal:
        ax.scatter(*zip(*teal), s=13, color=TEAL, linewidths=0, zorder=3)
    for side in ['top', 'right']:
        ax.spines[side].set_visible(False)
    for side in ['left', 'bottom']:
        ax.spines[side].set_linewidth(1.3)
        ax.spines[side].set_color('#333333')
    ax.set_xticks(xticks)
    ax.set_yticks(yticks)
    ax.set_yticklabels(ylabels, rotation=90, va='center', fontsize=7.5, fontweight='bold')
    ax.tick_params(axis='y', length=3.5, width=1, pad=1.5, color='#333333', labelcolor='#222222')
    ax.tick_params(axis='x', length=3.5, width=1, pad=3.5, color='#333333', labelsize=8, labelcolor='#222222')
    for t in ax.get_xticklabels():
        t.set_fontweight('bold')
    ax.set_xlabel('Difference (group 1 - group 2)', fontsize=9.8, fontweight='bold', labelpad=2, color='#222222',
                  x=0.507)
    ax.set_ylabel('-Log p', fontsize=8.5, fontweight='bold', labelpad=0.5, color='#222222')
    return ax


# overlay in pixel coordinates for separators, titles and column headers
bg = fig.add_axes([0, 0, 1, 1])
bg.set_xlim(0, W)
bg.set_ylim(H, 0)
bg.axis('off')
for sep_x, sep_top in zip([350, 712.5, 1050.5], [10, 12, 10]):
    bg.plot([sep_x, sep_x], [sep_top, H], color='#2A5C8F', lw=1.3)
for txt, cx in zip(['30 min', '2 hours', '6 hours', '20 hours'], [93, 488, 881, 1181]):
    bg.text(cx, 44, txt, ha='center', va='center', fontsize=17.3, family='DejaVu Sans', fontweight='bold',
            color='#111111')
bg.text(24, 101, 'a', ha='center', va='center', fontsize=25, fontweight='bold', color='#111111')
bg.text(24, 664, 'b', ha='center', va='center', fontsize=25, fontweight='bold', color='#111111')

headers = [('Stress _30min', 'Control _30min', 211.7, 253.3, 24.5, 214, 256, 19.6),
           ('Stress_ 2h', 'Control_2h', 572, 613, 28.6, 574.3, 616, 22.9),
           ('Stress_ 6h', 'Control_6h', 970.7, 1012, 24.5, 972.7, 1014, 19.6),
           ('Stress _20h', 'Control_ 20h', 1287.7, 1329.3, 28.6, 1290, 1331.7, 22.9)]
for s_txt, c_txt, sx, cx, ty, bx0, bx1, by in headers:
    bg.text(sx, ty, s_txt, rotation=270, ha='center', va='top', fontsize=6.3, color='#FFB0B0')
    bg.text(cx, ty, c_txt, rotation=270, ha='center', va='top', fontsize=6.3, color='#5A5AFF')
    bg.plot([bx0, bx1, bx1], [by, by, by + 2], color='#222222', lw=1.2)

# dendrograms
n_a, n = dendrogram(tree_30_a, tree_30_b, 75.4, 127.7, 114.3, 609.3, '#80E4FF', '#C256FF', 1.0, '#333333', 1.1)
for i, lab in enumerate(labels_30):
    bg.text(130, 114.3 + 33 * i, lab, fontsize=5.2, va='center', color='#80E4FF' if i < n_a else '#C256FF')
n_a, n = dendrogram(tree_2h_a, tree_2h_b, 76, 516.7, 96, 618.4, '#6CDCFF', '#FF3FB0', 1.0, '#444444', 1.4)
for i, lab in enumerate(labels_2h):
    bg.text(519, 96 + (618.4 - 96) / 78 * i, lab, fontsize=3.9, va='center', color='#80E4FF' if i < n_a else '#FF3FB0')
dendrogram(tree_6h_a, tree_6h_b, 136.7, 900, 97, 630.6, '#FF9C9C', '#FFB000', 1.8, '#111111', 2.0)
dendrogram(tree_20h_a, tree_20h_b, 76.3, 1229, 96.3, 624.5, '#1A1AFF', '#B845FF', 1.25, '#444444', 1.4)

# heatmaps
heat_col(194.7, 230.7, 92.6, 625, rows_30_edges, stress_30_vals)
heat_col(230.7, 266.7, 92.6, 625, rows_30_edges, control_30_vals)
heat_col(556.7, 593, 90.6, 624.5, stress_2h_edges, stress_2h_vals)
heat_col(593, 629, 90.6, 624.5, control_2h_edges, control_2h_vals)
heat_col(950, 988, 90.6, 628.6, stress_6h_edges, stress_6h_vals)
heat_col(988, 1030.3, 90.6, 628.6, control_6h_edges, control_6h_vals)
heat_col(1277.7, 1312.3, 89.8, 628.6, stress_20h_edges, stress_20h_vals)
heat_col(1312.3, 1347, 89.8, 628.6, control_20h_edges, control_20h_vals)

# volcano plots
volcano(79.5, 342, 226, 56, 124.1, [-2, -1, 0, 1, 2], [0, .5, 1, 1.5, 2, 2.5, 3],
        ['0', '0.5', '1', '1.5', '2', '2.5', '3'], green_30, red_30, gray_30 + edge_30,
        (band_30_x, band_30_lo, band_30_hi), teal_30)
volcano(424.3, 686.7, 552.7, 45.8, 92.4, [-2, 0, 2], [0, 1, 2, 3, 4], ['0', '1', '2', '3', '4'],
        green_2h, red_2h, gray_2h + edge_2h, (band_2h_x, band_2h_lo, band_2h_hi))
volcano(767.7, 1030, 904.7, 43.75, 98.75, [-2, 0, 2], [0, 1, 2, 3, 4], ['0', '1', '2', '3', '4'],
        green_6h, red_6h, gray_6h + edge_6h, (band_6h_x, band_6h_lo, band_6h_hi), teal_6h)
volcano(1087.7, 1354, 1225, 39.67, 77.67, [-2, 0, 2], [0, 1, 2, 3, 4, 5], ['0', '1', '2', '3', '4', '5'],
        green_20h, red_20h, gray_20h + edge_20h, (band_20h_x, band_20h_lo, band_20h_hi))

fig.savefig('out.png', dpi=100)
